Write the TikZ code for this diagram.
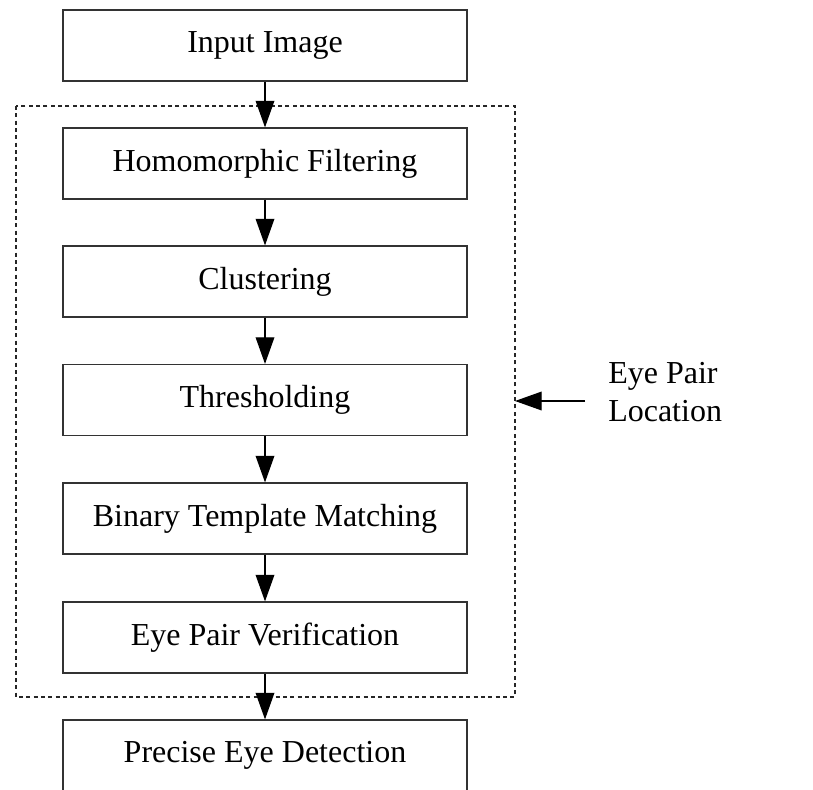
\documentclass[tikz,border=0pt]{standalone}
\usepackage{fontspec}
\setmainfont{Liberation Serif}
\usetikzlibrary{arrows.meta}
\begin{document}
\begin{tikzpicture}[x=0.75pt,y=-0.75pt,
  stepbox/.style={draw=black!80,line width=1.1pt,minimum width=303pt,minimum height=53pt,
    inner sep=0pt,font=\fontsize{24}{29}\selectfont},
  flow/.style={draw=black,line width=1pt,-{Triangle[length=20pt,width=14pt]}},
  groupbox/.style={draw=black!85,line width=1pt,dash pattern=on 3pt off 2.5pt}]
\useasboundingbox (0,0) rectangle (813,789);
\fill[white] (0,0) rectangle (813,789);
\clip (0,0) rectangle (813,789);
\node[stepbox] (in) at (265,45.5) {Input Image};
\node[stepbox] (hf) at (265,163.5) {Homomorphic Filtering};
\node[stepbox] (cl) at (265,281.5) {Clustering};
\node[stepbox] (th) at (265,400) {Thresholding};
\node[stepbox] (bt) at (265,518.5) {Binary Template Matching};
\node[stepbox] (ev) at (265,637.5) {Eye Pair Verification};
\node[stepbox] (pd) at (265,755.5) {Precise Eye Detection};
\draw[groupbox] (16,106) rectangle (515,697);
\coordinate (gr) at (515,401);
\node[anchor=west,inner sep=0pt,align=left,font=\fontsize{24}{28}\selectfont] (lbl) at (608,392) {Eye Pair\\Location};
\draw[flow] (in) -- (hf);
\draw[flow] (hf) -- (cl);
\draw[flow] (cl) -- (th);
\draw[flow] (th) -- (bt);
\draw[flow] (bt) -- (ev);
\draw[flow] (ev) -- (pd);
\draw[flow] (585,401) coordinate (ls) -- (gr);
\end{tikzpicture}
\end{document}
